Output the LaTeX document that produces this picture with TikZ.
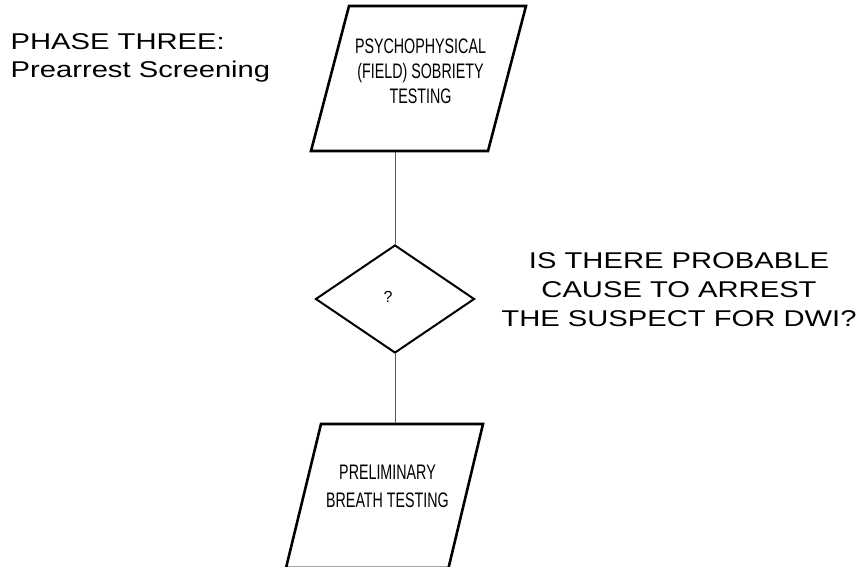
\documentclass[tikz,border=0pt]{standalone}
\usepackage{fontspec}
\setmainfont{Liberation Sans}
\newfontfamily\wideface{Liberation Sans}[FakeStretch=1.28]
\newfontfamily\narrowface{Liberation Sans}[FakeStretch=0.68]
\usetikzlibrary{shapes.geometric}

\begin{document}
\begin{tikzpicture}[x=1pt,y=-1pt,line join=miter,
	link/.style={draw=black!65,line width=0.9pt}]
	\tikzstyle{io}=[draw,line width=2.6pt]
	\tikzstyle{decision}=[diamond,draw,line width=2pt,minimum width=159pt,minimum height=108pt,inner sep=0pt]
	\tikzstyle{iotext}=[inner sep=0pt,align=center,font=\narrowface\fontsize{21}{25}\selectfont]
	\tikzstyle{bigtext}=[inner sep=0pt,font=\wideface\fontsize{22.8}{28.7}\selectfont]
	
	\useasboundingbox (0,0) rectangle (859,567);
	
	% input/output boxes
	\path[io] (349,6) -- (526,6) -- (488,151) -- (311,151) -- cycle;
	\coordinate (SFT) at (399.5,152.3);
	\node[iotext] (SFTt) at (420.5,71) {PSYCHOPHYSICAL\\(FIELD) SOBRIETY\\TESTING};
	
	\path[io] (321,424) -- (483,424) -- (448.5,568) -- (286,568) -- cycle;
	\coordinate (PBT) at (402,422.7);
	\node[iotext,font=\narrowface\fontsize{21}{28}\selectfont] (PBTt) at (387.5,486) {PRELIMINARY\\BREATH TESTING};
	
	% decision
	\node[decision] (PC) at (395,299) {};
	\node[inner sep=0pt,font=\fontsize{16}{19}\selectfont] (PCq) at (388,297) {?};
	
	\node[bigtext,align=left,anchor=north west] (PH) at (10.5,33) {PHASE THREE:\\Prearrest Screening};
	\node[bigtext,align=center,anchor=north] (Q) at (679,252.5) {IS THERE PROBABLE\\CAUSE TO ARREST\\THE SUSPECT FOR DWI?};
	
	\path[link] (PC.north) -- (PC.north |- SFT);
	\path[link] (PC.south) -- (PC.south |- PBT);
\end{tikzpicture}
\end{document}
